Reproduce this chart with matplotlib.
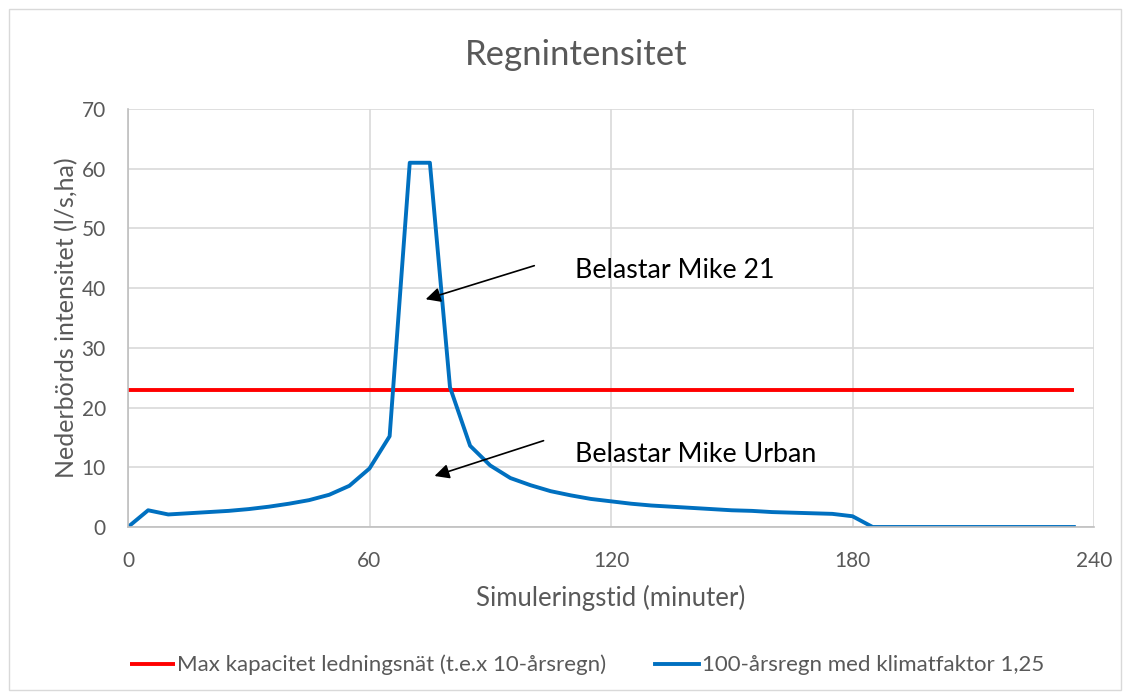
import matplotlib
matplotlib.use("Agg")
import matplotlib.pyplot as plt
from matplotlib.patches import Rectangle

plt.rcParams['font.family'] = ['Lato', 'DejaVu Sans']

time_min = [0, 5, 10, 15, 20, 25, 30, 35, 40, 45, 50, 55, 60, 65, 70, 75, 80, 85, 90,
            95, 100, 105, 110, 115, 120, 125, 130, 135, 140, 145, 150, 155, 160, 165,
            170, 175, 180, 185, 190, 195, 200, 205, 210, 215, 220, 225, 230, 235]
rain_100yr = [0, 2.8, 2.1, 2.3, 2.5, 2.7, 3.0, 3.4, 3.9, 4.5, 5.4, 6.9, 9.8, 15.2, 61.0, 61.0,
              23.4, 13.6, 10.3, 8.2, 7.0, 6.0, 5.3, 4.7, 4.3, 3.9, 3.6, 3.4, 3.2, 3.0, 2.8,
              2.7, 2.5, 2.4, 2.3, 2.2, 1.8, 0, 0, 0, 0, 0, 0, 0, 0, 0, 0, 0]
max_cap_time = [0, 235]
max_cap_value = [22.9, 22.9]

label_red = "Max kapacitet ledningsnät (t.e.x 10-årsregn)"
label_blue = "100-årsregn med klimatfaktor 1,25"
title = "Regnintensitet"
xlabel = "Simuleringstid (minuter)"
ylabel = "Nederbörds intensitet (l/s,ha)"
x_ticks = [0, 60, 120, 180, 240]
y_ticks = [0, 10, 20, 30, 40, 50, 60, 70]

TXT = '#595959'
GRID = '#d9d9d9'

fig = plt.figure(figsize=(11.31, 6.99), dpi=100)
fig.patches.append(Rectangle((9/1131, 9/699), 1112/1131, 681/699, transform=fig.transFigure,
                             fill=False, edgecolor='#d9d9d9', linewidth=1))
ax = fig.add_axes([128/1131, 1-527/699, (1094-128)/1131, (527-109)/699])

ax.plot(max_cap_time, max_cap_value, color='#ff0000', linewidth=2.8, label=label_red,
        solid_capstyle='butt')
ax.plot(time_min, rain_100yr, color='#0070c0', linewidth=2.8, label=label_blue,
        solid_joinstyle='round')

ax.set_xlim(0, 240)
ax.set_ylim(0, 70)
ax.set_xticks(x_ticks)
ax.set_yticks(y_ticks)
ax.grid(True, color=GRID, linewidth=1.2)
ax.set_axisbelow(True)
for s in ['top', 'right']:
    ax.spines[s].set_visible(False)
for s in ['left', 'bottom']:
    ax.spines[s].set_color('#bfbfbf')
    ax.spines[s].set_linewidth(1.2)
ax.tick_params(axis='x', length=0, labelsize=15, colors=TXT, pad=17)
ax.tick_params(axis='y', length=0, labelsize=15, colors=TXT, pad=16)
ax.set_xlabel(xlabel, fontsize=18.5, color=TXT, labelpad=10)
ax.set_ylabel(ylabel, fontsize=18, color=TXT, labelpad=2)
fig.text(576/1131, 1-55/699, title, ha='center', va='center', fontsize=25, color=TXT)

arrowprops = dict(arrowstyle='-|>', color='black', lw=1.2, mutation_scale=22)
ax.annotate('', xy=(73.3, 38.0), xytext=(101.6, 43.9), arrowprops=arrowprops)
ax.annotate('', xy=(75.5, 8.4), xytext=(103.9, 14.6), arrowprops=arrowprops)
ax.text(111, 42.9, "Belastar Mike 21", fontsize=19.3, color='black', va='center', ha='left')
ax.text(111, 12.1, "Belastar Mike Urban", fontsize=19.3, color='black', va='center', ha='left')

fig.legend(loc='center', bbox_to_anchor=(587/1131, 1-665/699), ncol=2, frameon=False,
           fontsize=16, labelcolor=TXT, handlelength=2.0, handletextpad=0.1,
           columnspacing=2.2)

fig.savefig('out.png', dpi=100)
